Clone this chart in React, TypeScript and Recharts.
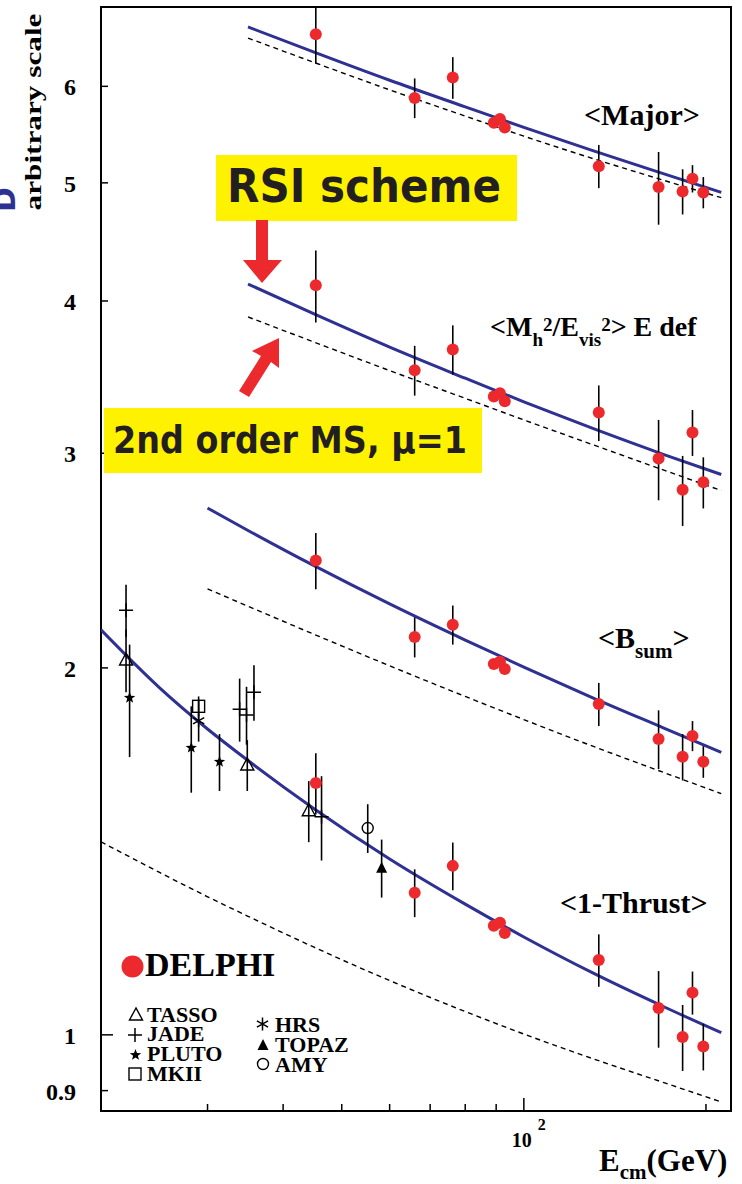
import React from 'react'
import { ComposedChart, Line, Scatter, XAxis, YAxis, ErrorBar, ReferenceArea } from 'recharts'

const W = 742
const H = 1184
const SERIF = '"Liberation Serif", "Times New Roman", serif'
const SANS = '"DejaVu Sans", sans-serif'
const RED = '#ec2a2e'
const BLUE = '#2e3192'
const INK = '#000'
const YELLOW = '#fff200'

// DELPHI centre-of-mass energies (GeV)
const E_DELPHI = [45.3, 66, 76.3, 89.2, 91.3, 93, 133, 167, 183, 190, 198]

const MAJOR = [6.62, 5.87, 6.1, 5.6, 5.64, 5.55, 5.16, 4.96, 4.92, 5.04, 4.91]
const MAJOR_ERR = [0.36, 0.22, 0.24, 0.03, 0.03, 0.03, 0.21, 0.34, 0.21, 0.13, 0.145]
const MH = [4.12, 3.51, 3.65, 3.34, 3.36, 3.31, 3.24, 2.97, 2.8, 3.12, 2.84]
const MH_ERR = [0.28, 0.165, 0.17, 0.02, 0.02, 0.02, 0.17, 0.225, 0.185, 0.135, 0.137]
const BSUM = [2.45, 2.12, 2.17, 2.015, 2.023, 1.996, 1.868, 1.749, 1.691, 1.759, 1.675]
const BSUM_ERR = [0.13, 0.08, 0.08, 0.012, 0.012, 0.012, 0.076, 0.097, 0.074, 0.05, 0.05]
const THRUST = [1.609, 1.308, 1.376, 1.229, 1.236, 1.212, 1.152, 1.052, 0.996, 1.083, 0.978]
const THRUST_ERR = [0.093, 0.059, 0.062, 0.007, 0.007, 0.007, 0.057, 0.076, 0.062, 0.044, 0.043]

// lower-energy experiments, <1-Thrust>
const TASSO_E = [22, 34.9, 44.1]
const TASSO = [2.03, 1.665, 1.527]
const TASSO_ERR = [0.12, 0.08, 0.088]
const JADE_E = [22, 33.9, 34.8, 35.8, 46.3]
const JADE = [2.23, 1.85, 1.83, 1.91, 1.51]
const JADE_ERR = [0.11, 0.11, 0.1, 0.1, 0.12]
const PLUTO_E = [22.3, 28.2, 31.4]
const PLUTO = [1.89, 1.72, 1.675]
const PLUTO_ERR = [0.2, 0.14, 0.09]
const MKII_E = [29]
const MKII = [1.86]
const MKII_ERR = [0.035]
const HRS_E = [29]
const HRS = [1.81]
const HRS_ERR = [0.07]
const AMY_E = [55.2]
const AMY = [1.478]
const AMY_ERR = [0.068]
const TOPAZ_E = [58.2]
const TOPAZ = [1.371]
const TOPAZ_ERR = [0.075]

// theory curves: RSI scheme (solid) and 2nd order MS-bar, mu=1 (dashed)
const CURVE_E = [35, 45, 60, 80, 100, 130, 170, 212]
const MAJOR_RSI = [6.712, 6.4, 6.069, 5.772, 5.553, 5.314, 5.088, 4.911]
const MAJOR_MS = [6.573, 6.277, 5.96, 5.672, 5.461, 5.235, 5.025, 4.862]
const MH_RSI = [4.13, 3.903, 3.666, 3.457, 3.306, 3.144, 2.994, 2.882]
const MH_MS = [3.881, 3.701, 3.507, 3.328, 3.195, 3.049, 2.907, 2.796]
const BSUM_CURVE_E = [30, 35, 45, 60, 80, 100, 130, 170, 212]
const BSUM_RSI = [2.705, 2.593, 2.426, 2.257, 2.108, 2.003, 1.89, 1.786, 1.705]
const BSUM_MS = [2.322, 2.247, 2.131, 2.008, 1.895, 1.814, 1.725, 1.642, 1.577]
const THRUST_CURVE_E = [20, 25, 30, 35, 45, 60, 80, 100, 130, 170, 212]
const THRUST_RSI = [2.149, 1.926, 1.782, 1.679, 1.533, 1.394, 1.28, 1.203, 1.124, 1.055, 1.004]
const THRUST_MS = [1.44, 1.359, 1.298, 1.251, 1.18, 1.108, 1.045, 1.0015, 0.956, 0.914, 0.881]

const X_TICKS = [30, 40, 50, 60, 70, 80, 90, 100, 200]
const Y_TICKS = [0.9, 1, 2, 3, 4, 5, 6]

const pts = (e: number[], v: number[], err?: number[]) =>
  e.map((E, i) => ({ E, v: v[i], err: err ? err[i] : 0 }))

function RedDot({ cx, cy }: any) {
  return <circle cx={cx} cy={cy} r={6} fill={RED} />
}
function OpenTriangle({ cx, cy }: any) {
  return <polygon points={`${cx},${cy - 7} ${cx - 6.5},${cy + 5} ${cx + 6.5},${cy + 5}`} fill="none" stroke={INK} strokeWidth={1.4} />
}
function FilledTriangle({ cx, cy }: any) {
  return <polygon points={`${cx},${cy - 6} ${cx - 5.5},${cy + 5} ${cx + 5.5},${cy + 5}`} fill={INK} />
}
function Cross({ cx, cy }: any) {
  return <path d={`M${cx - 7},${cy}H${cx + 7}M${cx},${cy - 7}V${cy + 7}`} stroke={INK} strokeWidth={1.5} />
}
function Star({ cx, cy }: any) {
  const p: string[] = []
  for (let i = 0; i < 10; i++) {
    const r = i % 2 === 0 ? 6 : 2.5
    const a = -Math.PI / 2 + (i * Math.PI) / 5
    p.push(`${cx + r * Math.cos(a)},${cy + r * Math.sin(a)}`)
  }
  return <polygon points={p.join(' ')} fill={INK} />
}
function OpenSquare({ cx, cy }: any) {
  return <rect x={cx - 6} y={cy - 6} width={12} height={12} fill="none" stroke={INK} strokeWidth={1.4} />
}
function Asterisk({ cx, cy }: any) {
  return (
    <path
      d={`M${cx},${cy - 6.5}V${cy + 6.5}M${cx - 5.6},${cy - 3.2}L${cx + 5.6},${cy + 3.2}M${cx - 5.6},${cy + 3.2}L${cx + 5.6},${cy - 3.2}`}
      stroke={INK}
      strokeWidth={1.5}
    />
  )
}
function OpenCircle({ cx, cy }: any) {
  return <circle cx={cx} cy={cy} r={5.5} fill="none" stroke={INK} strokeWidth={1.4} />
}

function XTick({ x, y, payload }: any) {
  const major = payload.value === 100
  return (
    <g>
      <line x1={x} x2={x} y1={y} y2={y - (major ? 13 : 7)} stroke={INK} strokeWidth={1.5} />
      {major && (
        <text x={x - 12} y={y + 36} fontFamily={SERIF} fontWeight="bold" fontSize={20} fill={INK}>
          10
          <tspan dx={6} dy={-17} fontSize={16}>2</tspan>
        </text>
      )}
    </g>
  )
}

function YTick({ x, y, payload }: any) {
  const major = payload.value === 1
  return (
    <g>
      <line x1={x} x2={x + (major ? 12 : 7)} y1={y} y2={y} stroke={INK} strokeWidth={1.5} />
      <text x={x - 25} y={y + 9} textAnchor="end" fontFamily={SERIF} fontWeight="bold" fontSize={24} fill={INK}>
        {payload.value}
      </text>
    </g>
  )
}

const errBar = (
  <ErrorBar dataKey="err" direction="y" width={0} stroke={INK} strokeWidth={1.6} />
)

export default function App() {
  const solid = { stroke: BLUE, strokeWidth: 3, dot: false, isAnimationActive: false, type: 'monotone' as const }
  const dashed = { stroke: INK, strokeWidth: 1.4, strokeDasharray: '5 4', dot: false, isAnimationActive: false, type: 'monotone' as const }

  return (
    <div style={{ position: 'absolute', left: 0, top: 0, width: W, height: H, background: '#fff' }}>
      <ComposedChart width={W} height={H} margin={{ top: 7, right: 11, bottom: 0, left: 0 }}>
        <XAxis
          dataKey="E"
          type="number"
          scale="log"
          domain={[20, 220]}
          allowDataOverflow
          ticks={X_TICKS}
          interval={0}
          tick={<XTick />}
          tickSize={0}
          tickMargin={0}
          tickLine={false}
          axisLine={false}
          height={73}
        />
        <YAxis
          type="number"
          scale="log"
          domain={[0.866, 6.97]}
          allowDataOverflow
          ticks={Y_TICKS}
          interval={0}
          tick={<YTick />}
          tickSize={0}
          tickMargin={0}
          tickLine={false}
          axisLine={false}
          width={101}
        />
        <ReferenceArea x1={20} x2={220} y1={0.866} y2={6.97} fill="none" stroke={INK} strokeWidth={2} ifOverflow="visible" />

        <Line data={pts(CURVE_E, MAJOR_MS)} dataKey="v" {...dashed} />
        <Line data={pts(CURVE_E, MH_MS)} dataKey="v" {...dashed} />
        <Line data={pts(BSUM_CURVE_E, BSUM_MS)} dataKey="v" {...dashed} />
        <Line data={pts(THRUST_CURVE_E, THRUST_MS)} dataKey="v" {...dashed} />
        <Line data={pts(CURVE_E, MAJOR_RSI)} dataKey="v" {...solid} />
        <Line data={pts(CURVE_E, MH_RSI)} dataKey="v" {...solid} />
        <Line data={pts(BSUM_CURVE_E, BSUM_RSI)} dataKey="v" {...solid} />
        <Line data={pts(THRUST_CURVE_E, THRUST_RSI)} dataKey="v" {...solid} />

        <Scatter data={pts(TASSO_E, TASSO, TASSO_ERR)} dataKey="v" shape={OpenTriangle} isAnimationActive={false}>{errBar}</Scatter>
        <Scatter data={pts(JADE_E, JADE, JADE_ERR)} dataKey="v" shape={Cross} isAnimationActive={false}>{errBar}</Scatter>
        <Scatter data={pts(PLUTO_E, PLUTO, PLUTO_ERR)} dataKey="v" shape={Star} isAnimationActive={false}>{errBar}</Scatter>
        <Scatter data={pts(MKII_E, MKII, MKII_ERR)} dataKey="v" shape={OpenSquare} isAnimationActive={false}>{errBar}</Scatter>
        <Scatter data={pts(HRS_E, HRS, HRS_ERR)} dataKey="v" shape={Asterisk} isAnimationActive={false}>{errBar}</Scatter>
        <Scatter data={pts(AMY_E, AMY, AMY_ERR)} dataKey="v" shape={OpenCircle} isAnimationActive={false}>{errBar}</Scatter>
        <Scatter data={pts(TOPAZ_E, TOPAZ, TOPAZ_ERR)} dataKey="v" shape={FilledTriangle} isAnimationActive={false}>{errBar}</Scatter>

        <Scatter data={pts(E_DELPHI, MAJOR, MAJOR_ERR)} dataKey="v" shape={RedDot} isAnimationActive={false}>{errBar}</Scatter>
        <Scatter data={pts(E_DELPHI, MH, MH_ERR)} dataKey="v" shape={RedDot} isAnimationActive={false}>{errBar}</Scatter>
        <Scatter data={pts(E_DELPHI, BSUM, BSUM_ERR)} dataKey="v" shape={RedDot} isAnimationActive={false}>{errBar}</Scatter>
        <Scatter data={pts(E_DELPHI, THRUST, THRUST_ERR)} dataKey="v" shape={RedDot} isAnimationActive={false}>{errBar}</Scatter>
      </ComposedChart>

      <svg width={W} height={H} style={{ position: 'absolute', left: 0, top: 0, pointerEvents: 'none' }}>
        {/* y-axis title */}
        <text
          transform="translate(41,112) rotate(-90)"
          textAnchor="middle"
          fontFamily={SERIF}
          fontWeight="bold"
          fontSize={23}
          textLength={197}
          lengthAdjust="spacingAndGlyphs"
          fill={INK}
        >
          arbitrary scale
        </text>
        <text transform="translate(15,212) rotate(-90)" fontFamily={SANS} fontWeight="bold" fontSize={30} fill={BLUE}>D</text>

        {/* x-axis title */}
        <text x={599} y={1171} fontFamily={SERIF} fontWeight="bold" fontSize={31} fill={INK}>
          E<tspan dy={8} fontSize={21}>cm</tspan>
          <tspan dy={-8}>(GeV)</tspan>
        </text>

        {/* observable labels */}
        <text x={584} y={125} fontFamily={SERIF} fontWeight="bold" fontSize={30} fill={INK}>&lt;Major&gt;</text>
        <text x={490} y={336} fontFamily={SERIF} fontWeight="bold" fontSize={28} fill={INK}>
          &lt;M<tspan dy={10} fontSize={19}>h</tspan>
          <tspan dy={-15} fontSize={19}>2</tspan>
          <tspan dy={5}>/E</tspan>
          <tspan dy={10} fontSize={19}>vis</tspan>
          <tspan dy={-15} fontSize={19}>2</tspan>
          <tspan dy={5}>&gt; E def</tspan>
        </text>
        <text x={598} y={648} fontFamily={SERIF} fontWeight="bold" fontSize={30} fill={INK}>
          &lt;B<tspan dy={10} fontSize={21}>sum</tspan>
          <tspan dy={-10}>&gt;</tspan>
        </text>
        <text x={560} y={913} fontFamily={SERIF} fontWeight="bold" fontSize={30} fill={INK}>&lt;1-Thrust&gt;</text>

        {/* annotations */}
        <rect x={216} y={155} width={301} height={66} fill={YELLOW} />
        <text x={227} y={202} fontFamily={SANS} fontWeight="bold" fontSize={46} fill="#231f20" textLength={274} lengthAdjust="spacingAndGlyphs">
          RSI scheme
        </text>
        <polygon points="256,220 268,220 268,260 282,260 262,283 243,260 256,260" fill={RED} />
        <polygon points="239,391 249,397 271,362 279,368 279,338 252,351 261,356" fill={RED} />
        <rect x={104} y={408} width={378} height={65} fill={YELLOW} />
        <text x={113} y={453} fontFamily={SANS} fontWeight="bold" fontSize={37} fill="#231f20" textLength={354} lengthAdjust="spacingAndGlyphs">
          2nd order MS, μ=1
        </text>

        {/* legend */}
        <circle cx={132.5} cy={966.5} r={11} fill={RED} />
        <text x={145} y={976} fontFamily={SERIF} fontWeight="bold" fontSize={34} fill={INK}>DELPHI</text>
        <OpenTriangle cx={136} cy={1015} />
        <Cross cx={135} cy={1035} />
        <Star cx={135.5} cy={1055} />
        <OpenSquare cx={135} cy={1074} />
        <Asterisk cx={262.5} cy={1024} />
        <FilledTriangle cx={263} cy={1045} />
        <OpenCircle cx={263} cy={1064} />
        <g fontFamily={SERIF} fontWeight="bold" fontSize={22} fill={INK}>
          <text x={147} y={1022}>TASSO</text>
          <text x={147} y={1041}>JADE</text>
          <text x={147} y={1061}>PLUTO</text>
          <text x={147} y={1081}>MKII</text>
          <text x={275} y={1032}>HRS</text>
          <text x={275} y={1052}>TOPAZ</text>
          <text x={275} y={1072}>AMY</text>
        </g>
      </svg>
    </div>
  )
}
